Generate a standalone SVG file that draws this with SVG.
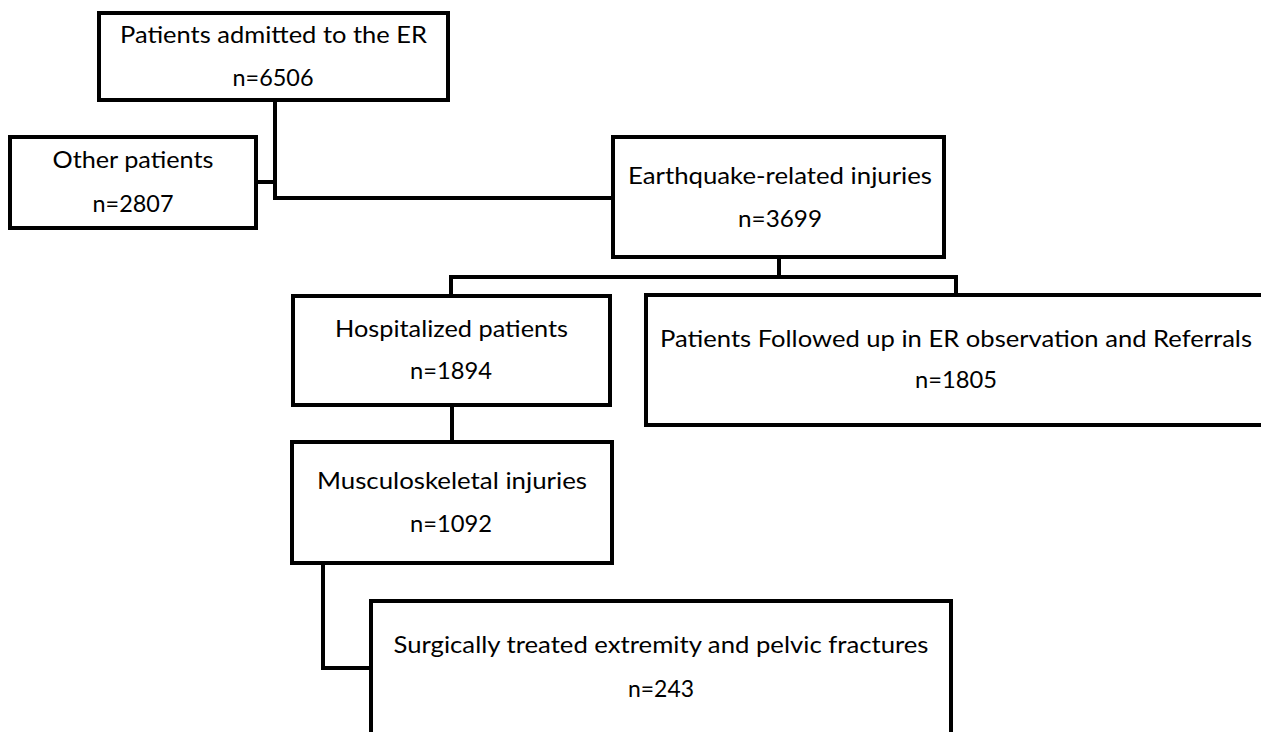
<svg xmlns="http://www.w3.org/2000/svg" width="1261" height="732" viewBox="0 0 1261 732">
<style>
.box{fill:#fff;stroke:#000;stroke-width:4}
.ln{fill:none;stroke:#000;stroke-width:4}
text{font-family:"Lato","Open Sans",sans-serif;font-size:24px;fill:#000;text-anchor:middle}
</style>
<rect width="1261" height="732" fill="#fff"/>
<g id="connectors">
<polyline class="ln" points="275,100 275,198 613,198"/>
<line class="ln" x1="256" y1="182" x2="277" y2="182"/>
<line class="ln" x1="779" y1="257" x2="779" y2="277"/>
<polyline class="ln" points="451,296 451,277 956,277 956,295"/>
<line class="ln" x1="452" y1="405" x2="452" y2="442"/>
<polyline class="ln" points="323,563 323,668 371,668"/>
</g>
<g id="n_admitted">
<rect class="box" x="99" y="13" width="349" height="87"/>
<text x="273.5" y="43" textLength="307" lengthAdjust="spacingAndGlyphs">Patients admitted to the ER</text>
<text x="273" y="86" textLength="81" lengthAdjust="spacingAndGlyphs">n=6506</text>
</g>
<g id="n_other">
<rect class="box" x="10" y="137" width="246" height="91"/>
<text x="133" y="168" textLength="161" lengthAdjust="spacingAndGlyphs">Other patients</text>
<text x="133" y="212" textLength="81" lengthAdjust="spacingAndGlyphs">n=2807</text>
</g>
<g id="n_earthquake">
<rect class="box" x="613" y="137" width="331" height="120"/>
<text x="780" y="184" textLength="304" lengthAdjust="spacingAndGlyphs">Earthquake-related injuries</text>
<text x="780" y="227" textLength="84" lengthAdjust="spacingAndGlyphs">n=3699</text>
</g>
<g id="n_hosp">
<rect class="box" x="293" y="296" width="317" height="109"/>
<text x="451.5" y="337" textLength="233" lengthAdjust="spacingAndGlyphs">Hospitalized patients</text>
<text x="451" y="379" textLength="82" lengthAdjust="spacingAndGlyphs">n=1894</text>
</g>
<g id="n_er">
<rect class="box" x="646" y="295" width="630" height="130"/>
<text x="956" y="347" textLength="592" lengthAdjust="spacingAndGlyphs">Patients Followed up in ER observation and Referrals</text>
<text x="956" y="388" textLength="82" lengthAdjust="spacingAndGlyphs">n=1805</text>
</g>
<g id="n_msk">
<rect class="box" x="292" y="442" width="320" height="121"/>
<text x="452" y="489" textLength="270" lengthAdjust="spacingAndGlyphs">Musculoskeletal injuries</text>
<text x="451" y="532" textLength="82" lengthAdjust="spacingAndGlyphs">n=1092</text>
</g>
<g id="n_surg">
<rect class="box" x="371" y="601" width="580" height="150"/>
<text x="661" y="653" textLength="535" lengthAdjust="spacingAndGlyphs">Surgically treated extremity and pelvic fractures</text>
<text x="661" y="697" textLength="66" lengthAdjust="spacingAndGlyphs">n=243</text>
</g>
</svg>
